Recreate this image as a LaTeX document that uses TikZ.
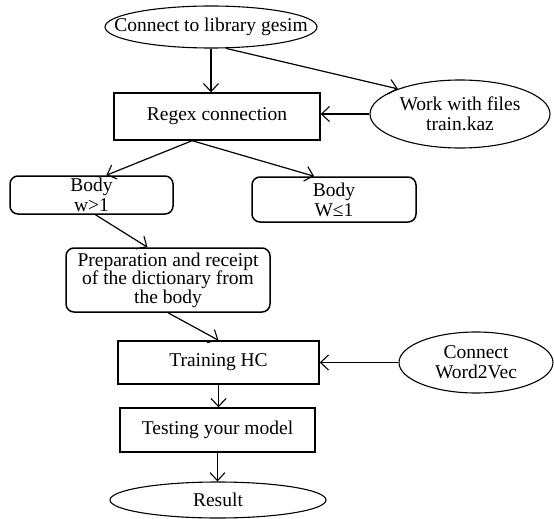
\documentclass[tikz,border=0pt]{standalone}
\usepackage{fontspec}
\setmainfont{Liberation Serif}
\usetikzlibrary{shapes.geometric,arrows.meta,calc}
\begin{document}
\begin{tikzpicture}[x=1pt,y=-1pt,
  txt/.style={font=\fontsize{19.5}{20}\selectfont, align=center, inner sep=0pt},
  box/.style={txt, draw, line width=1.4pt, rectangle},
  rbox/.style={txt, draw, line width=1.5pt, rectangle, rounded corners=8pt},
  oval/.style={draw, line width=1.1pt, ellipse, inner sep=0pt},
  lbl/.style={txt},
  arr/.style={line width=1.2pt, -{Straight Barb[length=8pt,width=15pt,line width=1.1pt]}}]
\useasboundingbox (0,0) rectangle (554,519);

\node[oval, minimum width=212pt, minimum height=42pt,
  label={[lbl]center:Connect to library gesim}] (c1) at (211,27) {};
\node[box, minimum width=206pt, minimum height=47pt] (reg) at (217,116.5) {Regex connection};
\node[oval, minimum width=180pt, minimum height=68pt,
  label={[lbl]center:Work with files\\train.kaz}] (work) at (460,114) {};
\node[rbox, minimum width=163pt, minimum height=38pt] (b1) at (91.5,195) {Body\\w>1};
\node[rbox, minimum width=164pt, minimum height=45pt] (b2) at (334,199.5) {Body\\W≤1};
\node[rbox, minimum width=204pt, minimum height=64pt, font=\fontsize{19.5}{18.5}\selectfont] (prep) at (168,280)
  {Preparation and receipt\\of the dictionary from\\the body};
\node[box, minimum width=201pt, minimum height=43pt] (train) at (218.5,362.5) {Training HC};
\node[oval, minimum width=154pt, minimum height=61pt,
  label={[lbl]center:Connect\\Word2Vec}] (w2v) at (476,362.5) {};
\node[box, minimum width=195pt, minimum height=44pt] (test) at (217.5,430) {Testing your model};
\node[oval, minimum width=216pt, minimum height=36pt,
  label={[lbl]center:Result}] (res) at (218,500) {};

\draw[arr] (c1.south) -- (c1.south |- reg.north);
\draw[arr] (c1.-55) -- (work.158);
\draw[arr] (work.west) -- (work.west -| reg.east);
\draw[arr] ($(reg.south west)!0.38!(reg.south east)$) -- ($(b1.north west)!0.59!(b1.north east)$);
\draw[arr] ($(reg.south west)!0.38!(reg.south east)$) -- ($(b2.north west)!0.38!(b2.north east)$);
\draw[arr] ($(b1.south)+(4,0)$) -- ($(prep.north west)!0.4!(prep.north east)$);
\draw[arr] (prep.south) -- (train.north);
\draw[arr] (w2v.west) -- (w2v.west -| train.east);
\draw[arr] (train.south) -- (train.south |- test.north);
\draw[arr] (test.south) -- (test.south |- res.north);
\end{tikzpicture}
\end{document}
